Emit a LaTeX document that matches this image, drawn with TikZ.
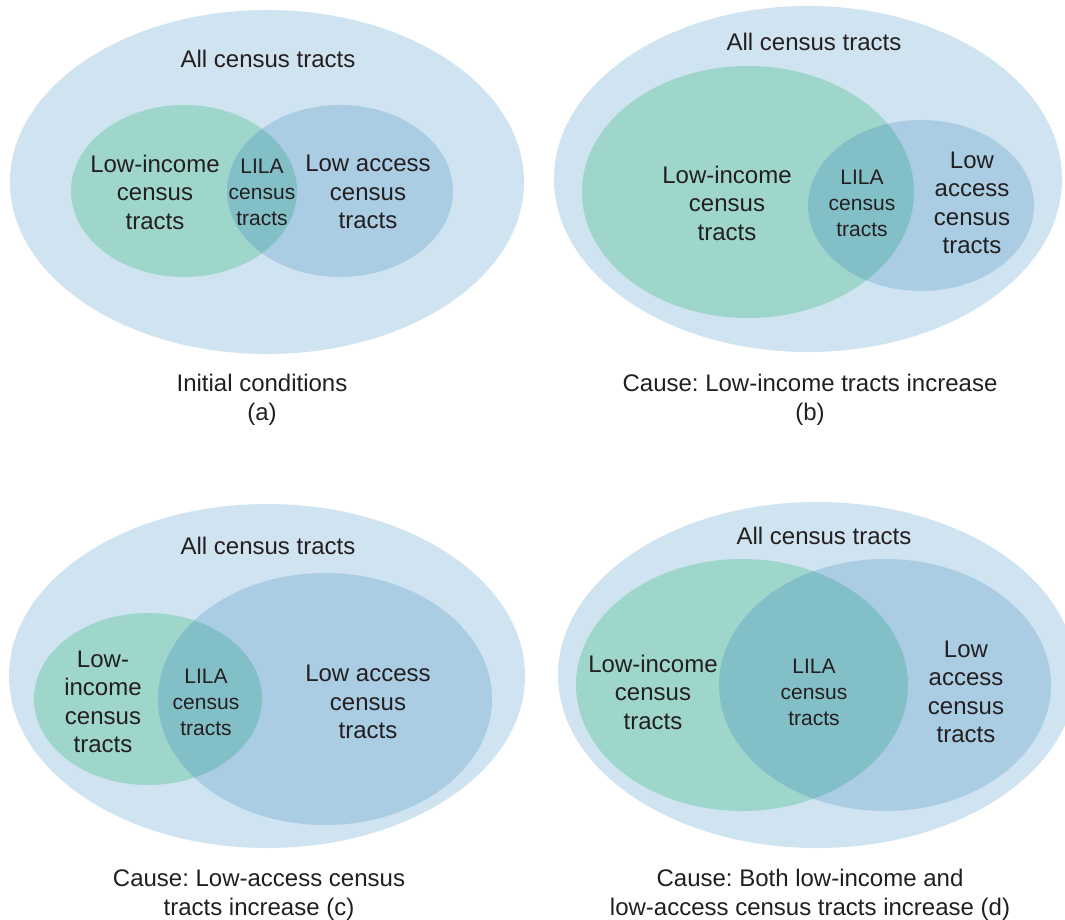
\documentclass[tikz,border=0pt]{standalone}
\usepackage{fontspec}
\setmainfont{Liberation Sans}
\frenchspacing
\definecolor{outerc}{HTML}{CFE3F0}
\definecolor{greenc}{HTML}{9ED6CC}
\definecolor{bluec}{HTML}{AACDE4}
\definecolor{interc}{HTML}{83BFC7}
\definecolor{txtc}{HTML}{231F20}
\tikzset{
  lbl/.style={align=center, text=txtc, inner sep=0pt, font=\fontsize{24}{28.5}\selectfont},
  lila/.style={align=center, text=txtc, inner sep=0pt, font=\fontsize{21}{26}\selectfont},
  capt/.style={align=center, text=txtc, inner sep=0pt, font=\fontsize{24}{29}\selectfont\frenchspacing},
}
\newcommand{\venn}[8]{%
  % #1,#2 green center; #3,#4 green radii; #5,#6 blue center; #7,#8 blue radii
  \fill[greenc] (#1,#2) ellipse [x radius=#3, y radius=#4];
  \fill[bluec] (#5,#6) ellipse [x radius=#7, y radius=#8];
  \begin{scope}
    \clip (#1,#2) ellipse [x radius=#3, y radius=#4];
    \fill[interc] (#5,#6) ellipse [x radius=#7, y radius=#8];
  \end{scope}}
\begin{document}
\begin{tikzpicture}[x=1pt,y=-1pt]
\useasboundingbox (0,0) rectangle (1065,920);
\fill[white] (0,0) rectangle (1065,920);
\begin{scope}
\clip (0,0) rectangle (1065,920);
% outer ellipses
\fill[outerc] (267,182) ellipse [x radius=257, y radius=172];
\fill[outerc] (808,179) ellipse [x radius=254, y radius=173];
\fill[outerc] (267,676) ellipse [x radius=258, y radius=172];
\fill[outerc] (817,675) ellipse [x radius=259, y radius=173];
% (a)
\venn{184}{191}{113}{86}{340}{191}{113}{86}
% (b)
\venn{748}{192}{166}{126}{921}{205.5}{113}{85.5}
% (c)
\venn{148}{699}{114}{86}{325}{699}{167}{126}
% (d)
\venn{742}{685}{166}{126}{885}{685}{166}{126}
\end{scope}

% (a) texts
\node[lbl] (aall) at (268,59) {All census tracts};
\node[lbl] (ainc) at (155,192) {Low-income\\census\\tracts};
\node[lila] (alila) at (262,192) {LILA\\census\\tracts};
\node[lbl] (aacc) at (368,192) {Low access\\census\\tracts};
\node[capt] (acap) at (262,400) {Initial conditions\\(a)};

% (b) texts
\node[lbl] (ball) at (814,42) {All census tracts};
\node[lbl] (binc) at (727,203) {Low-income\\census\\tracts};
\node[lila] (blila) at (862,203) {LILA\\census\\tracts};
\node[lbl] (bacc) at (972,203) {Low\\access\\census\\tracts};
\node[capt] (bcap) at (810,400) {Cause: Low-income tracts increase\\(b)};

% (c) texts
\node[lbl] (call) at (268,546) {All census tracts};
\node[lbl] (cinc) at (103,702) {Low-\\income\\census\\tracts};
\node[lila] (clila) at (206,702) {LILA\\census\\tracts};
\node[lbl] (cacc) at (368,702) {Low access\\census\\tracts};
\node[capt] (ccap) at (259,895) {Cause: Low-access census\\tracts increase (c)};

% (d) texts
\node[lbl] (dall) at (824,536) {All census tracts};
\node[lbl] (dinc) at (653,692) {Low-income\\census\\tracts};
\node[lila] (dlila) at (814,692) {LILA\\census\\tracts};
\node[lbl] (dacc) at (966,692) {Low\\access\\census\\tracts};
\node[capt] (dcap) at (810,895) {Cause: Both low-income and\\low-access census tracts increase (d)};
\end{tikzpicture}
\end{document}
